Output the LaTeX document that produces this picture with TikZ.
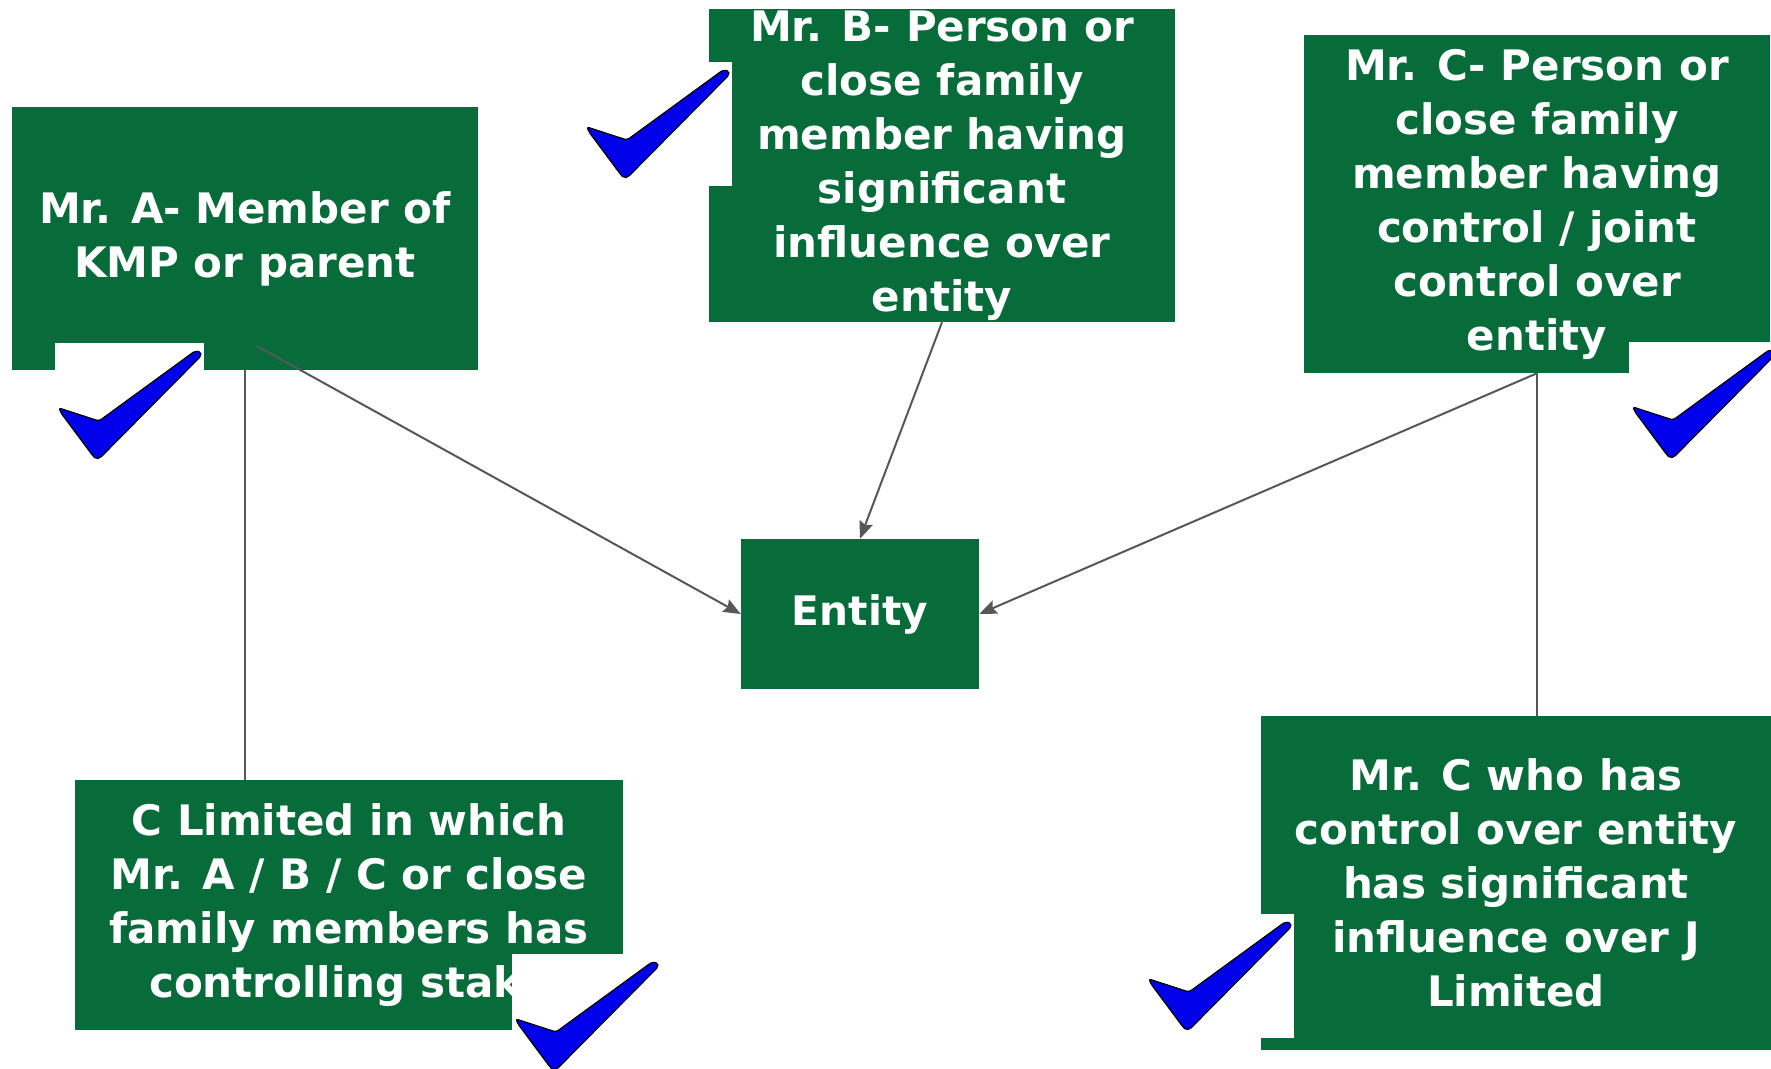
\documentclass[tikz,border=0pt]{standalone}
\usepackage{fontspec}
\setmainfont{DejaVu Sans}
\usetikzlibrary{arrows.meta}
\definecolor{boxgreen}{RGB}{7,107,58}
\definecolor{linkgray}{RGB}{85,87,93}
\definecolor{tickblue}{RGB}{0,0,235}
\newlength\px
\setlength\px{0.75pt}
\begin{document}
\begin{tikzpicture}[x=0.75pt,y=-0.75pt,
  box/.style={fill=boxgreen, text=white, inner sep=0pt, align=center,
    font=\bfseries\fontsize{31.5}{40.5}\selectfont},
  link/.style={draw=linkgray, line width=1.5pt},
  arrowlink/.style={link, -{Stealth[length=13pt,width=10.5pt,inset=2pt]}},
  tick/.pic={
    \fill[white] (-4,-7) rectangle (145,117);
    \draw[fill=tickblue, draw=black, line width=0.9pt, line join=round, rounded corners=1.5pt]
      (0,58) -- (40,71) -- (136,1) -- (142,2) -- (142,6) -- (41,108)
      -- (37,109) -- (34,106) -- (2,63) -- cycle;
  }
]
\clip (0,0) rectangle (1771,1069);
\fill[white] (0,0) rectangle (1771,1069);

% boxes
\node[box, minimum width=466\px, minimum height=263\px] (mra) at (245,238.5)
  {Mr. A- Member of\\KMP or parent};
\node[box, minimum width=466\px, minimum height=313\px] (mrb) at (942,165.5)
  {Mr. B- Person or\\close family\\member having\\significant\\influence over\\entity};
\node[box, minimum width=466\px, minimum height=338\px] (mrc) at (1537,204)
  {Mr. C- Person or\\close family\\member having\\control / joint\\control over\\entity};
\node[box, minimum width=238\px, minimum height=150\px,
  font=\bfseries\fontsize{30.5}{40.5}\selectfont] (ent) at (860,614) {Entity};
\node[box, minimum width=548\px, minimum height=250\px] (cltd) at (349,905)
  {C Limited in which\\Mr. A / B / C or close\\family members has\\controlling stake};
\node[box, minimum width=510\px, minimum height=334\px] (cwho) at (1516,883)
  {Mr. C who has\\control over entity\\has significant\\influence over J\\Limited};

% connectors
\coordinate (aout) at (257,346);
\draw[arrowlink] (aout) -- (ent.west);
\draw[link] (mra.south) -- (mra.south |- cltd.north);
\draw[arrowlink] (mrb.south) -- (ent.north);
\draw[arrowlink] (mrc.south) -- (ent.east);
\draw[link] (mrc.south) -- (mrc.south |- cwho.north);

% ticks
\pic at (59,350) {tick};
\pic at (587,69) {tick};
\pic at (1633,349) {tick};
\pic at (516,961) {tick};
\pic at (1149,921) {tick};
\end{tikzpicture}
\end{document}
